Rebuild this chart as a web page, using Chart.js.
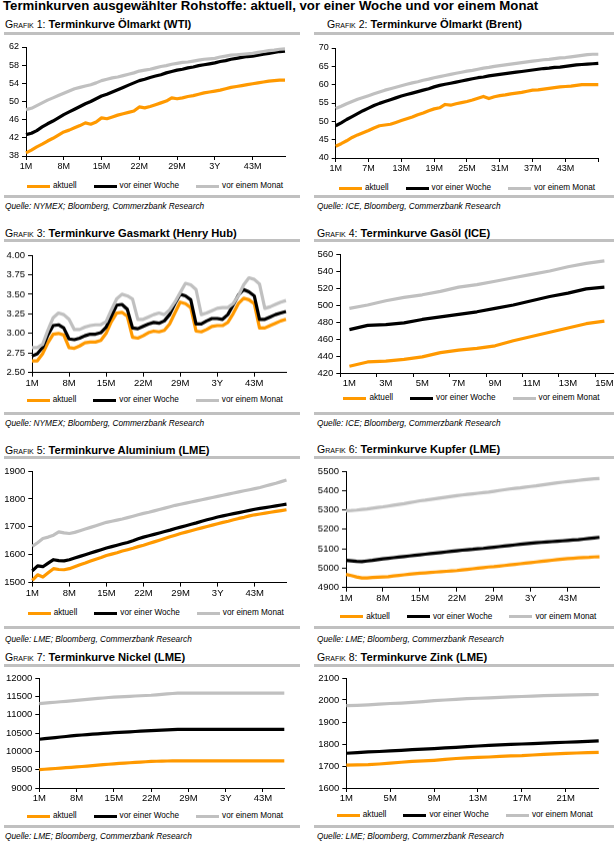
<!DOCTYPE html>
<html lang="de"><head><meta charset="utf-8">
<title>Terminkurven ausgewählter Rohstoffe</title>
<script src="https://cdn.jsdelivr.net/npm/chart.js@4.4.1/dist/chart.umd.min.js"></script>
<style>
html,body{margin:0;padding:0;background:#fff;width:614px;height:846px;overflow:hidden;position:relative;font-family:"Liberation Sans",Arial,sans-serif;color:#000}
.a{position:absolute;white-space:nowrap}
.title{left:3px;top:-2px;font-size:13.2px;line-height:15px;font-weight:bold}
.hdr{font-size:11.2px;line-height:12px}
.hdr .g{font-variant:small-caps;font-size:10.5px}
.rule{height:3px;background:#c0c0c0}
.src{font-size:8.3px;line-height:10px;font-style:italic}
.box{position:absolute}
.leg{position:absolute;display:flex;justify-content:center;align-items:center;height:12px;font-size:8.2px;line-height:12px;white-space:nowrap}
.leg .it{display:flex;align-items:center;margin:0 8.5px}
.leg .ln{display:inline-block;width:23px;height:3px;margin-right:3px}
</style></head><body>
<div class="a title">Terminkurven ausgewählter Rohstoffe: aktuell, vor einer Woche und vor einem Monat</div>
<script>
const FONT = '"Liberation Sans", Arial, sans-serif';
Chart.defaults.font.family = FONT;
Chart.defaults.color = '#000';

const seriesNames = ["aktuell", "vor einer Woche", "vor einem Monat"];
const seriesColors = ["#ff9900", "#000000", "#c0c0c0"];

const months49 = ["1M","2M","3M","4M","5M","6M","7M","8M","9M","10M","11M","12M","13M","14M","15M","16M","17M","18M","19M","20M","21M","22M","23M","24M","25M","26M","27M","28M","29M","30M","31M","32M","33M","34M","35M","3Y","37M","38M","39M","40M","41M","42M","43M","44M","45M","46M","47M","48M","49M"];
const months47 = ["1M","2M","3M","4M","5M","6M","7M","8M","9M","10M","11M","12M","13M","14M","15M","16M","17M","18M","19M","20M","21M","22M","23M","24M","25M","26M","27M","28M","29M","30M","31M","32M","33M","34M","35M","3Y","37M","38M","39M","40M","41M","42M","43M","44M","45M","46M","47M"];
const gasoilMonths = ["1M","2M","3M","4M","5M","6M","7M","8M","9M","10M","11M","12M","13M","14M","15M"];
const zincMonths = ["1M","2M","3M","4M","5M","6M","7M","8M","9M","10M","11M","12M","13M","14M","15M","16M","17M","18M","19M","20M","21M","22M","23M","24M"];

// Grafik 1: WTI
const wtiAktuell = [38.7,39.3,40.0,40.6,41.3,41.9,42.6,43.3,43.7,44.2,44.7,45.3,45.0,45.5,46.4,46.2,46.6,47.0,47.3,47.6,47.9,48.8,48.6,48.9,49.3,49.7,50.1,50.8,50.6,50.8,51.1,51.3,51.6,51.9,52.1,52.3,52.5,52.8,53.1,53.3,53.5,53.7,53.9,54.1,54.3,54.5,54.6,54.7,54.7];
const wtiWoche = [42.7,43.0,43.6,44.4,45.1,45.7,46.4,47.1,47.7,48.3,48.9,49.5,50.0,50.6,51.2,51.6,52.1,52.6,53.1,53.6,54.1,54.6,54.9,55.3,55.6,55.9,56.3,56.6,56.9,57.1,57.4,57.6,57.9,58.1,58.3,58.5,58.8,59.0,59.3,59.5,59.7,59.9,60.0,60.2,60.4,60.6,60.8,61.0,61.1];
const wtiMonat = [48.2,48.5,49.1,49.7,50.3,50.8,51.3,51.8,52.3,52.8,53.1,53.4,53.7,54.1,54.6,54.9,55.2,55.4,55.7,56.0,56.3,56.7,56.9,57.1,57.4,57.7,57.9,58.2,58.4,58.6,58.7,58.9,59.1,59.3,59.4,59.5,59.8,60.0,60.2,60.3,60.4,60.5,60.6,60.8,61.0,61.2,61.3,61.5,61.6];

// Grafik 2: Brent
const brentAktuell = [43.2,43.9,44.7,45.6,46.3,46.9,47.5,48.2,48.8,49.0,49.2,49.7,50.2,50.7,51.2,51.8,52.3,52.9,53.4,53.7,54.6,54.4,54.8,55.1,55.4,55.8,56.3,56.8,56.2,56.7,57.0,57.2,57.5,57.7,57.9,58.2,58.5,58.6,58.8,59.0,59.2,59.4,59.5,59.6,59.8,60.0,60.0,60.0,60.0];
const brentWoche = [48.8,49.6,50.5,51.3,52.1,52.9,53.6,54.3,54.9,55.4,55.9,56.4,56.9,57.3,57.7,58.1,58.5,58.9,59.4,59.8,60.1,60.4,60.7,61.0,61.3,61.6,61.9,62.1,62.4,62.6,62.8,63.0,63.2,63.4,63.6,63.8,64.0,64.2,64.4,64.5,64.7,64.8,65.0,65.2,65.4,65.5,65.6,65.7,65.8];
const brentMonat = [53.5,54.1,54.8,55.4,56.0,56.5,57.0,57.5,58.0,58.5,58.9,59.3,59.7,60.1,60.5,60.8,61.2,61.5,61.9,62.2,62.5,62.8,63.1,63.4,63.7,63.9,64.2,64.5,64.7,65.0,65.2,65.4,65.6,65.8,66.0,66.2,66.4,66.6,66.8,66.9,67.1,67.3,67.4,67.6,67.8,68.0,68.2,68.3,68.3];

// Grafik 3: Henry Hub
const hhAktuell = [2.65,2.65,2.74,2.88,2.99,3.00,2.98,2.82,2.81,2.84,2.88,2.89,2.89,2.91,3.00,3.15,3.26,3.27,3.22,2.95,2.94,2.97,3.01,3.03,3.02,3.04,3.12,3.26,3.40,3.38,3.33,3.03,3.02,3.05,3.09,3.10,3.10,3.14,3.25,3.38,3.45,3.43,3.38,3.07,3.07,3.10,3.13,3.16,3.18];
const hhWoche = [2.71,2.74,2.82,2.98,3.10,3.11,3.07,2.93,2.92,2.94,2.97,2.99,2.99,3.01,3.08,3.22,3.36,3.37,3.31,3.07,3.06,3.09,3.12,3.14,3.13,3.16,3.24,3.38,3.50,3.48,3.43,3.12,3.12,3.16,3.19,3.19,3.18,3.24,3.36,3.49,3.56,3.53,3.48,3.18,3.18,3.21,3.24,3.26,3.28];
const hhMonat = [2.82,2.82,2.86,3.04,3.20,3.26,3.24,3.18,3.05,3.05,3.08,3.10,3.11,3.11,3.15,3.30,3.44,3.50,3.48,3.44,3.18,3.18,3.21,3.24,3.26,3.24,3.30,3.40,3.52,3.64,3.62,3.56,3.24,3.26,3.29,3.32,3.33,3.33,3.38,3.48,3.62,3.71,3.69,3.63,3.32,3.34,3.37,3.40,3.42];

// Grafik 4: Gasöl
const gasoilAktuell = [428,433,434,436,439,444,447,449,452,458,463,468,473,478,481];
const gasoilWoche = [471,476,477,479,483,486,489,492,496,500,505,510,514,519,521];
const gasoilMonat = [496,500,505,509,512,516,521,524,528,532,536,540,545,549,552];

// Grafik 5: Aluminium
const alAktuell = [1508,1528,1520,1535,1550,1547,1546,1550,1557,1564,1570,1577,1584,1590,1597,1602,1607,1613,1618,1623,1629,1634,1640,1646,1652,1658,1664,1670,1676,1681,1686,1691,1696,1701,1706,1711,1716,1720,1725,1730,1734,1739,1743,1746,1749,1752,1755,1758,1761];
const alWoche = [1542,1560,1557,1570,1582,1579,1578,1582,1588,1594,1600,1606,1612,1618,1624,1629,1634,1639,1644,1650,1657,1663,1668,1673,1678,1683,1688,1694,1699,1704,1709,1714,1720,1725,1730,1735,1739,1743,1747,1751,1755,1759,1763,1766,1769,1772,1775,1778,1781];
const alMonat = [1630,1643,1658,1663,1670,1682,1678,1676,1680,1686,1692,1698,1704,1710,1716,1720,1724,1728,1733,1738,1743,1748,1752,1757,1762,1767,1772,1777,1781,1785,1789,1793,1797,1801,1805,1809,1813,1817,1821,1825,1829,1833,1837,1841,1846,1851,1856,1862,1868];

// Grafik 6: Kupfer
const cuAktuell = [4968,4962,4955,4950,4950,4952,4954,4955,4956,4960,4963,4966,4969,4972,4974,4976,4978,4980,4982,4984,4986,4988,4991,4994,4997,5000,5003,5006,5008,5011,5014,5017,5020,5023,5026,5029,5032,5035,5038,5041,5044,5047,5049,5051,5053,5055,5056,5058,5059];
const cuWoche = [5040,5038,5035,5034,5037,5040,5044,5048,5051,5054,5057,5060,5063,5066,5069,5072,5075,5078,5081,5084,5087,5090,5093,5095,5097,5100,5102,5105,5108,5111,5114,5117,5120,5123,5126,5129,5131,5133,5135,5137,5139,5141,5143,5145,5147,5150,5153,5156,5159];
const cuMonat = [5296,5297,5299,5302,5305,5309,5313,5316,5320,5324,5328,5332,5337,5342,5347,5350,5354,5358,5362,5366,5370,5374,5377,5380,5383,5386,5389,5392,5396,5400,5404,5408,5411,5414,5418,5421,5424,5428,5432,5436,5440,5443,5446,5449,5452,5455,5458,5460,5462];

// Grafik 7: Nickel
const niAktuell = [9500,9511,9522,9532,9543,9554,9564,9575,9587,9599,9611,9623,9636,9648,9660,9669,9679,9688,9697,9706,9716,9725,9730,9734,9737,9739,9740,9740,9740,9740,9740,9740,9740,9740,9740,9740,9740,9740,9740,9740,9740,9740,9740,9740,9740,9740,9740];
const niWoche = [10330,10345,10360,10375,10390,10405,10420,10435,10446,10457,10468,10478,10488,10499,10509,10517,10525,10533,10541,10549,10557,10565,10572,10580,10587,10594,10600,10600,10600,10600,10600,10600,10600,10600,10600,10600,10600,10600,10600,10600,10600,10600,10600,10600,10600,10600,10600];
const niMonat = [11300,11313,11326,11339,11352,11365,11378,11390,11403,11416,11429,11442,11455,11468,11480,11487,11494,11501,11509,11516,11523,11530,11542,11554,11566,11578,11590,11590,11590,11590,11590,11590,11590,11590,11590,11590,11590,11590,11590,11590,11590,11590,11590,11590,11590,11590,11590];

// Grafik 8: Zink
const znAktuell = [1704,1705,1706,1709,1713,1717,1721,1723,1726,1730,1734,1737,1739,1741,1744,1746,1747,1750,1753,1755,1757,1759,1761,1762];
const znWoche = [1758,1761,1764,1766,1769,1771,1774,1777,1779,1782,1785,1788,1791,1794,1796,1798,1800,1802,1804,1806,1808,1810,1812,1814];
const znMonat = [1974,1976,1978,1981,1984,1986,1989,1993,1997,2000,2003,2006,2008,2010,2012,2014,2016,2018,2020,2021,2022,2023,2024,2025];

const panels = [
  {no:1, name:"Terminkurve Ölmarkt (WTI)", source:"Quelle: NYMEX; Bloomberg, Commerzbank Research",
   labels:months49, series:[wtiAktuell, wtiWoche, wtiMonat], yMin:38, yMax:62, yStep:4, dec:0, every:7, lastLabel:42, offset:false,
   col:[0,300], area:[26,47,285,156], font:9, hdr:[5,18], src:[5,201.3], rules:[[4,32,296],[4,195,296]], legend:[155,186]},
  {no:2, name:"Terminkurve Ölmarkt (Brent)", source:"Quelle: ICE, Bloomberg, Commerzbank Research",
   labels:months49, series:[brentAktuell, brentWoche, brentMonat], yMin:40, yMax:70, yStep:5, dec:0, every:6, lastLabel:42, offset:false,
   col:[307,607], area:[335.7,47.7,598.3,157.7], font:9, hdr:[327,18], src:[317,201.3], rules:[[314,32,300],[314,195,300]], legend:[467,188]},
  {no:3, name:"Terminkurve Gasmarkt (Henry Hub)", source:"Quelle: NYMEX; Bloomberg, Commerzbank Research",
   labels:months49, series:[hhAktuell, hhWoche, hhMonat], yMin:2.5, yMax:4, yStep:0.25, dec:2, every:7, lastLabel:42, offset:false,
   col:[0,300], area:[32,255,286,371.7], font:9.5, hdr:[5,227], src:[5,418], rules:[[4,239,296],[4,411.5,296]], legend:[154.7,400]},
  {no:4, name:"Terminkurve Gasöl (ICE)", source:"Quelle: ICE; Bloomberg, Commerzbank Research",
   labels:gasoilMonths, series:[gasoilAktuell, gasoilWoche, gasoilMonat], yMin:420, yMax:560, yStep:20, dec:0, every:2, lastLabel:14, offset:true,
   col:[307,640], area:[340.3,254.3,613.5,373.3], font:9.5, hdr:[317,227], src:[317,418], rules:[[314,238.5,300],[314,411.5,300]], legend:[471.5,398.3]},
  {no:5, name:"Terminkurve Aluminium (LME)", source:"Quelle: LME; Bloomberg, Commerzbank Research",
   labels:months49, series:[alAktuell, alWoche, alMonat], yMin:1500, yMax:1900, yStep:100, dec:0, every:7, lastLabel:42, offset:false,
   col:[0,300], area:[32.3,470.7,286.5,582.3], font:9.5, hdr:[5,443.7], src:[5,634], rules:[[4,455.5,296],[4,626,296]], legend:[155.7,613.3]},
  {no:6, name:"Terminkurve Kupfer (LME)", source:"Quelle: LME; Bloomberg, Commerzbank Research",
   labels:months49, series:[cuAktuell, cuWoche, cuMonat], yMin:4900, yMax:5500, yStep:100, dec:0, every:7, lastLabel:42, offset:false,
   col:[307,607], area:[346,471,599.5,586.7], font:9.5, hdr:[317,443], src:[317,634], rules:[[314,455.5,300],[314,626,300]], legend:[468.3,616.7]},
  {no:7, name:"Terminkurve Nickel (LME)", source:"Quelle: LME; Bloomberg, Commerzbank Research",
   labels:months47, series:[niAktuell, niWoche, niMonat], yMin:9000, yMax:12000, yStep:500, dec:0, every:7, lastLabel:42, offset:false,
   col:[0,300], area:[39.3,677.7,284.3,787.7], font:9.5, hdr:[5,651.4], src:[5,830.6], rules:[[4,663.5,296],[4,824.5,296]], legend:[155,816]},
  {no:8, name:"Terminkurve Zink (LME)", source:"Quelle: LME; Bloomberg, Commerzbank Research",
   labels:zincMonths, series:[znAktuell, znWoche, znMonat], yMin:1600, yMax:2100, yStep:100, dec:0, every:4, lastLabel:20, offset:false,
   col:[307,607], area:[346.3,677.7,598.7,787.7], font:9.5, hdr:[317,651.4], src:[317,830.6], rules:[[314,663.5,300],[314,824.5,300]], legend:[464.8,815]}
];

function el(cls, x, y, html) {
  const d = document.createElement('div');
  d.className = cls;
  d.style.left = x + 'px';
  d.style.top = y + 'px';
  if (html !== undefined) d.innerHTML = html;
  document.body.appendChild(d);
  return d;
}

function build(p) {
  el('a hdr', p.hdr[0], p.hdr[1], '<span class="g">Grafik ' + p.no + ':</span> <b>' + p.name + '</b>');
  p.rules.forEach(r => { const d = el('a rule', r[0], r[1]); d.style.width = r[2] + 'px'; });
  el('a src', p.src[0], p.src[1], p.source);

  const [cl, cr] = p.col;
  const [al, at, ar, ab] = p.area;
  const padTop = 10, xH = 18;
  const top = at - padTop;
  const h = (ab - at) + padTop + xH;
  const box = document.createElement('div');
  box.className = 'box';
  box.style.left = cl + 'px';
  box.style.top = top + 'px';
  box.style.width = (cr - cl) + 'px';
  box.style.height = h + 'px';
  const cv = document.createElement('canvas');
  box.appendChild(cv);
  document.body.appendChild(box);
  const font = {family: FONT, size: p.font};
  const every = p.every;

  const chart = new Chart(cv, {
    type: 'line',
    data: {
      labels: p.labels,
      datasets: p.series.map((d, i) => ({
        label: seriesNames[i], data: d,
        borderColor: seriesColors[i], backgroundColor: seriesColors[i],
        borderWidth: 3.2, pointRadius: 0, pointHoverRadius: 0, tension: 0, fill: false,
        borderJoinStyle: 'round', order: 2 - i
      }))
    },
    options: {
      responsive: true, maintainAspectRatio: false, animation: false, events: [],
      layout: {padding: {top: padTop, left: 0, right: cr - ar, bottom: 0}},
      plugins: {legend: {display: false}, tooltip: {enabled: false}, title: {display: false}},
      scales: {
        x: {
          type: 'category', offset: p.offset,
          afterFit: s => { s.height = xH; },
          border: {display: true, color: '#000', width: 1},
          grid: {display: true, drawOnChartArea: false, drawTicks: true, tickLength: 4, offset: p.offset, lineWidth: 1,
                 color: c => (c.index !== undefined && c.index % every === 0) ? '#000' : 'rgba(0,0,0,0)'},
          ticks: {autoSkip: false, maxRotation: 0, minRotation: 0, padding: 1, color: '#000', font,
                  callback: (v, i) => (i % every === 0 && i <= p.lastLabel) ? p.labels[i] : ''}
        },
        y: {
          min: p.yMin, max: p.yMax,
          afterFit: s => { s.width = al - cl; },
          border: {display: true, color: '#000', width: 1},
          grid: {display: true, drawOnChartArea: false, drawTicks: true, tickLength: 4, color: '#000'},
          ticks: {stepSize: p.yStep, padding: 3, color: '#000', font, callback: v => Number(v).toFixed(p.dec)}
        }
      }
    }
  });

  const lg = el('leg', p.legend[0] - 160, p.legend[1] - 6);
  lg.style.width = '320px';
  chart.data.datasets.forEach(ds => {
    const it = document.createElement('div');
    it.className = 'it';
    const ln = document.createElement('span');
    ln.className = 'ln';
    ln.style.background = ds.borderColor;
    const tx = document.createElement('span');
    tx.textContent = ds.label;
    it.appendChild(ln); it.appendChild(tx);
    lg.appendChild(it);
  });
}

panels.forEach(build);
</script>
</body></html>
